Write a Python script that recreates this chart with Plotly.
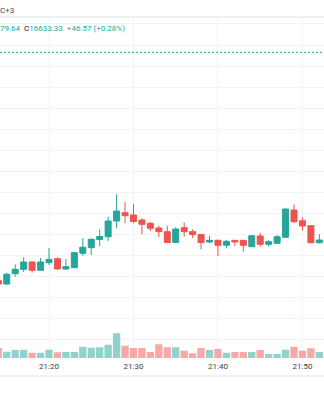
import plotly.graph_objects as go

# ---- data (1-minute bars) ----
TIMES = ["21:14", "21:15", "21:16", "21:17", "21:18", "21:19", "21:20", "21:21", "21:22", "21:23",
         "21:24", "21:25", "21:26", "21:27", "21:28", "21:29", "21:30", "21:31", "21:32", "21:33",
         "21:34", "21:35", "21:36", "21:37", "21:38", "21:39", "21:40", "21:41", "21:42", "21:43",
         "21:44", "21:45", "21:46", "21:47", "21:48", "21:49", "21:50", "21:51", "21:52"]
OPEN = [16588.03, 16586.46, 16591.35, 16593.44, 16596.91, 16592.97, 16596.58, 16598.48, 16593.59, 16594.20,
        16601.05, 16603.71, 16607.60, 16608.93, 16616.39, 16620.33, 16619.24, 16616.86, 16615.30, 16613.06,
        16611.31, 16606.18, 16613.21, 16611.31, 16609.98, 16606.41, 16607.22, 16604.85, 16607.22, 16607.22,
        16604.18, 16609.26, 16605.32, 16605.80, 16608.65, 16621.62, 16616.53, 16614.16, 16606.08]
HIGH = [16588.84, 16591.83, 16595.82, 16599.14, 16597.39, 16598.81, 16603.56, 16599.14, 16598.34, 16601.66,
        16608.31, 16608.08, 16612.45, 16618.43, 16629.07, 16625.42, 16624.47, 16617.67, 16615.91, 16614.16,
        16614.16, 16613.40, 16615.77, 16612.45, 16610.21, 16609.41, 16607.60, 16607.36, 16607.36, 16607.36,
        16609.50, 16610.83, 16607.36, 16609.74, 16622.33, 16624.23, 16618.15, 16614.25, 16610.21]
LOW = [16585.99, 16585.99, 16589.93, 16592.16, 16591.83, 16592.64, 16595.49, 16593.35, 16593.11, 16594.06,
       16599.90, 16600.24, 16604.51, 16606.89, 16612.92, 16615.30, 16615.30, 16610.07, 16611.64, 16608.79,
       16605.80, 16605.94, 16608.93, 16608.31, 16602.94, 16605.80, 16599.76, 16603.42, 16604.51, 16601.81,
       16604.04, 16604.18, 16604.18, 16605.70, 16608.55, 16615.58, 16611.78, 16605.94, 16605.80]
CLOSE = [16586.46, 16591.07, 16593.44, 16596.91, 16592.97, 16596.91, 16598.19, 16593.59, 16594.68, 16601.33,
         16603.90, 16607.70, 16609.03, 16616.39, 16621.14, 16618.91, 16616.15, 16614.82, 16612.92, 16611.31,
         16606.18, 16612.59, 16611.31, 16609.98, 16606.18, 16607.22, 16604.85, 16606.75, 16606.41, 16604.85,
         16609.41, 16605.32, 16606.56, 16608.93, 16622.09, 16616.06, 16614.01, 16606.08, 16607.36]
VOLUME = [40, 25, 32, 33, 21, 21, 33, 23, 24, 24,
          45, 41, 43, 53, 99, 49, 40, 40, 24, 55,
          43, 43, 29, 19, 40, 32, 36, 21, 24, 24,
          24, 32, 16, 16, 33, 45, 29, 39, 24]
PRICE_LINE = 16696.5
HEADER_TOP = "C+3"
LEGEND_VALS = ["79.64", "C", "16633.33", "+46.57 (+0.28%)"]
DAY = "2022-11-21 "

UP = "#26a69a"
DOWN = "#ef5350"
UP_VOL = "rgba(38,166,154,0.5)"
DOWN_VOL = "rgba(239,83,80,0.5)"
GRID = "#f0f3fa"

x = [DAY + t for t in TIMES]
vol_colors = [UP_VOL if c >= o else DOWN_VOL for o, c in zip(OPEN, CLOSE)]

fig = go.Figure()
fig.add_trace(go.Candlestick(
    x=x, open=OPEN, high=HIGH, low=LOW, close=CLOSE,
    increasing=dict(line=dict(color=UP, width=1), fillcolor=UP),
    decreasing=dict(line=dict(color=DOWN, width=1), fillcolor=DOWN),
    whiskerwidth=0, yaxis="y", showlegend=False, hoverinfo="skip",
))
fig.add_trace(go.Bar(
    x=x, y=VOLUME, marker=dict(color=vol_colors, line=dict(width=0)),
    width=52000, yaxis="y2", showlegend=False, hoverinfo="skip",
))

H = 400.0
top_px, bot_px = 17, 360
fig.update_layout(
    width=324, height=400,
    margin=dict(l=0, r=0, t=0, b=0),
    paper_bgcolor="white", plot_bgcolor="white",
    boxgap=0.29, boxgroupgap=0,
    font=dict(family="Roboto", size=8, color="#131722"),
    xaxis=dict(
        type="date", domain=[0, 1],
        range=[DAY + "21:14:12", DAY + "21:52:33"],
        rangeslider=dict(visible=False),
        tickformat="%H:%M", dtick=600000, tick0=DAY + "21:00",
        showgrid=True, gridcolor=GRID, gridwidth=1,
        zeroline=False, showline=False, ticks="",
        tickfont=dict(family="Roboto", size=8, color="#3b3e48"),
    ),
    yaxis=dict(
        domain=[1 - bot_px / H, 1 - top_px / H],
        range=[16550.36, 16713.30],
        dtick=10, tick0=16700,
        showgrid=True, gridcolor=GRID, gridwidth=1,
        showticklabels=False, zeroline=False, showline=False, ticks="",
    ),
    yaxis2=dict(
        overlaying="y", range=[-8, 1364],
        showgrid=False, showticklabels=False, zeroline=False, showline=False,
    ),
    shapes=[
        dict(type="line", xref="paper", yref="paper", x0=0, x1=1,
             y0=1 - 17 / H, y1=1 - 17 / H, line=dict(color="#e0e3eb", width=1)),
        dict(type="line", xref="paper", yref="paper", x0=0, x1=1,
             y0=1 - 376 / H, y1=1 - 376 / H, line=dict(color="#e0e3eb", width=1)),
        dict(type="line", xref="paper", yref="y", x0=0, x1=1,
             y0=PRICE_LINE, y1=PRICE_LINE, line=dict(color=UP, width=1, dash="2px,2px")),
    ],
    annotations=[
        dict(text=HEADER_TOP, xref="paper", yref="paper", x=0, y=1 - 10 / H,
             xanchor="left", yanchor="middle", showarrow=False, xshift=-2,
             font=dict(family="Roboto", size=8, color="#434651")),
        dict(text=('<span style="color:%s">%s</span>  %s<span style="color:%s">%s</span>  '
                   '<span style="color:%s">%s</span>') % (UP, LEGEND_VALS[0], LEGEND_VALS[1], UP,
                                                            LEGEND_VALS[2], UP, LEGEND_VALS[3]),
             xref="paper", yref="paper", x=0, y=1 - 28 / H,
             xanchor="left", yanchor="middle", showarrow=False, xshift=-2,
             font=dict(family="Roboto", size=8, color="#131722")),
    ],
)

fig.write_html("out.html")
